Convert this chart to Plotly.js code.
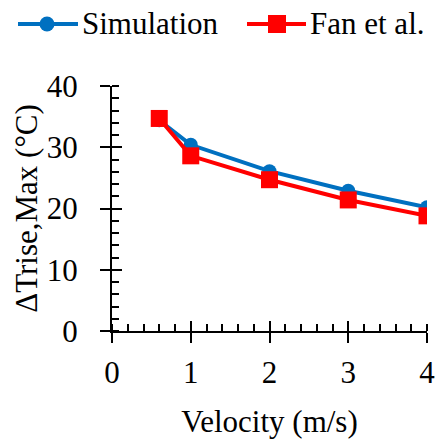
<!DOCTYPE html>
<html><head><meta charset="utf-8">
<script src="https://cdn.plot.ly/plotly-3.0.1.min.js"></script>
<style>body{margin:0;padding:0;background:#fff}#chart{width:435px;height:441px}</style>
</head><body><div id="chart"></div>
<script>
const velocity = [0.6, 1, 2, 3, 4];
const simulation = [34.4, 30.4, 26.1, 22.9, 20.2];
const fanEtAl = [34.7, 28.6, 24.7, 21.4, 18.8];
const seriesNames = ['Simulation', 'Fan et al.'];
const xTicks = [0, 1, 2, 3, 4];
const yTicks = [0, 10, 20, 30, 40];

const FONT = 'Liberation Serif';
const FS = 31;
const BLUE = '#0070C0', RED = '#FF0000';
const traces = [
  {x: velocity, y: simulation, name: seriesNames[0], type: 'scatter', mode: 'lines+markers',
   line: {color: BLUE, width: 4}, marker: {symbol: 'circle', size: 14, color: BLUE}},
  {x: velocity, y: fanEtAl, name: seriesNames[1], type: 'scatter', mode: 'lines+markers',
   line: {color: RED, width: 4}, marker: {symbol: 'square', size: 17, color: RED}},
  {x: [], y: [], xaxis: 'x2', yaxis: 'y2', showlegend: false, hoverinfo: 'skip'}
];
// manual legend (paper coords relative to plot area)
const L = 112, R = 427, T = 86, B = 331;
const W = R - L, H = B - T;
const px = v => (v - L) / W;
const py = v => 1 - (v - T) / H;
const shapes = [
  {type: 'line', xref: 'paper', yref: 'paper', x0: px(18), x1: px(78), y0: py(24), y1: py(24), line: {color: BLUE, width: 4}},
  {type: 'circle', xref: 'paper', yref: 'paper', x0: px(39.5), x1: px(54.5), y0: py(16.5), y1: py(31.5), fillcolor: BLUE, line: {width: 0}},
  {type: 'line', xref: 'paper', yref: 'paper', x0: px(247), x1: px(306), y0: py(24), y1: py(24), line: {color: RED, width: 4}},
  {type: 'rect', xref: 'paper', yref: 'paper', x0: px(268), x1: px(286), y0: py(15), y1: py(33), fillcolor: RED, line: {width: 0}}
];
const annotations = [
  {xref: 'paper', yref: 'paper', x: px(80), y: py(23), xanchor: 'left', yanchor: 'middle', showarrow: false,
   text: seriesNames[0], font: {family: FONT, size: FS, color: '#000'}},
  {xref: 'paper', yref: 'paper', x: px(308), y: py(23), xanchor: 'left', yanchor: 'middle', showarrow: false,
   text: seriesNames[1], font: {family: FONT, size: FS, color: '#000'}}
];
const layout = {
  width: 435, height: 441,
  margin: {l: L, r: 435 - R, t: T, b: 441 - B, autoexpand: false},
  paper_bgcolor: '#fff', plot_bgcolor: '#fff',
  font: {family: FONT, size: FS, color: '#000'},
  showlegend: false,
  shapes: shapes, annotations: annotations,
  xaxis: {range: [0, 4], tickvals: xTicks, ticktext: xTicks.map(String),
          showgrid: false, zeroline: false, showline: true, linecolor: '#000', linewidth: 2,
          ticks: 'outside', ticklen: 10, tickwidth: 2, tickcolor: '#000',
          minor: {dtick: 0.2, ticks: 'inside', ticklen: 7, tickwidth: 2, tickcolor: '#000', showgrid: false},
          title: {text: 'Velocity (m/s)', font: {family: FONT, size: FS, color: '#000'}, standoff: 21},
          tickfont: {family: FONT, size: FS, color: '#000'}, ticklabeloverflow: 'allow', ticklabelstandoff: 3,
          automargin: false, fixedrange: true},
  yaxis: {range: [0, 40], tickvals: yTicks, ticktext: yTicks.map(String),
          showgrid: false, zeroline: false, showline: true, linecolor: '#000', linewidth: 2,
          ticks: 'outside', ticklen: 10, tickwidth: 2, tickcolor: '#000',
          minor: {dtick: 2, ticks: 'inside', ticklen: 7, tickwidth: 2, tickcolor: '#000', showgrid: false},
          title: {text: 'ΔTrise,Max (°C)', font: {family: FONT, size: FS, color: '#000'}, standoff: 0},
          tickfont: {family: FONT, size: FS, color: '#000'}, ticklabeloverflow: 'allow', ticklabelstandoff: 16,
          automargin: false, fixedrange: true},
  xaxis2: {overlaying: 'x', range: [0, 4], tickvals: xTicks, showticklabels: false,
           ticks: 'inside', ticklen: 10, tickwidth: 2, tickcolor: '#000',
           showgrid: false, zeroline: false, showline: false, fixedrange: true},
  yaxis2: {overlaying: 'y', range: [0, 40], tickvals: yTicks, showticklabels: false,
           ticks: 'inside', ticklen: 10, tickwidth: 2, tickcolor: '#000',
           showgrid: false, zeroline: false, showline: false, fixedrange: true}
};
Plotly.newPlot('chart', traces, layout, {displayModeBar: false, staticPlot: true});
</script></body></html>
